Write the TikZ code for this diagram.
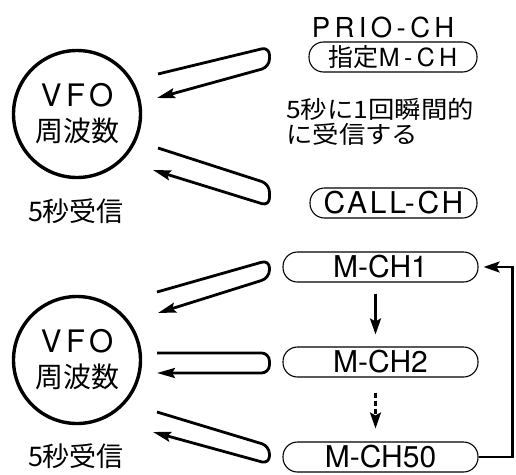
\documentclass[tikz,border=0pt]{standalone}
\usepackage{fontspec}
\setmainfont{Noto Sans CJK JP}
\newfontfamily\latfont{TeX Gyre Heros}
\newfontfamily\latwide{TeX Gyre Heros}[LetterSpace=15]
\newfontfamily\jawide{Noto Sans CJK JP}[FakeStretch=1.1]
\usetikzlibrary{arrows.meta,positioning,calc}

\begin{document}
\begin{tikzpicture}[x=1pt, y=-1pt,
      vfo/.style={draw, circle, line width=3.4pt, minimum size=127pt, inner sep=0pt,
                  align=center, font=\fontsize{28}{35}\selectfont},
      chan/.style={draw, line width=1.1pt, rounded corners=14.5pt, minimum height=30pt,
                   inner sep=0pt},
      lbl/.style={inner sep=0pt, font=\fontsize{27}{30}\selectfont},
      hair/.style={line width=2.8pt, rounded corners=8pt, line join=round,
                   -{Stealth[length=18pt, width=10pt, inset=3pt]}},
      arr/.style={line width=2.4pt, -{Stealth[length=16pt, width=11pt, inset=3pt]}}
    ]
    \useasboundingbox (0,0) rectangle (516,474);
    % upper part: PRIO watch
    \node[vfo] (vfoA) at (77,114) {{\latwide\fontsize{31}{35}\selectfont VFO}\\周波数};
    \node[lbl] (recvA) at (76,211) {5秒受信};
    \node[chan, minimum width=168pt, font=\fontsize{25}{30}\selectfont] (prio) at (393,57)
          {指定{\latfont\addfontfeatures{LetterSpace=18}M-CH}};
    \node[lbl, font=\latfont\fontsize{27.5}{30}\selectfont\addfontfeatures{LetterSpace=16}] (prioname)
          at (383,27) {PRIO-CH};
    \node[chan, minimum width=167pt, font=\latfont\fontsize{30}{30}\selectfont\addfontfeatures{LetterSpace=9}]
          (call) at (393.5,203) {CALL-CH};
    \node[lbl, anchor=west, align=left, font=\jawide\fontsize{24}{25}\selectfont] (note) at (286,122)
          {5秒に1回瞬間的\\に受信する};
    \draw[hair] ($(vfoA)+(81,-40)$) -- ($(prio.west)+(-39,-10)$)
                -- ($(prio.west)+(-39,10)$) -- ($(vfoA)+(80,-16)$);
    \draw[hair] ($(vfoA)+(81,34)$) -- ($(call.west)+(-40,-19)$)
                -- ($(call.west)+(-40,3)$) -- ($(vfoA)+(76,56)$);
    % lower part: memory scan
    \node[vfo] (vfoB) at (77,360) {{\latwide\fontsize{31}{35}\selectfont VFO}\\周波数};
    \node[lbl] (recvB) at (76,456) {5秒受信};
    \foreach \nm/\yy/\txt in {mchA/267/M-CH1, mchB/362/M-CH2, mchC/457/M-CH50}
      \node[chan, minimum width=195pt, font=\latfont\fontsize{30}{30}\selectfont] (\nm) at (380.5,\yy) {\txt};
    \draw[hair] ($(vfoB)+(80,-68)$) -- ($(mchA.west)+(-13,-7)$)
                -- ($(mchA.west)+(-13,11)$) -- ($(vfoB)+(81,-47)$);
    \draw[hair] ($(vfoB)+(80,-7)$) -- ($(mchB.west)+(-13,-9)$)
                -- ($(mchB.west)+(-13,11)$) -- ($(vfoB)+(80,13)$);
    \draw[hair] ($(vfoB)+(80,52)$) -- ($(mchC.west)+(-13,-11)$)
                -- ($(mchC.west)+(-13,7)$) -- ($(vfoB)+(76,72)$);
    \draw[arr] ([xshift=-5pt, yshift=-11pt]mchA.south) -- ([xshift=-5pt, yshift=12pt]mchB.north);
    \draw[arr, dash pattern=on 5pt off 3pt] ([xshift=-5pt, yshift=-15pt]mchB.south)
               -- ([xshift=-5pt, yshift=13pt]mchC.north);
    \draw[arr] (mchC.east) -- ++(34,0) |- ([xshift=5pt]mchA.east);
  \end{tikzpicture}
\end{document}
